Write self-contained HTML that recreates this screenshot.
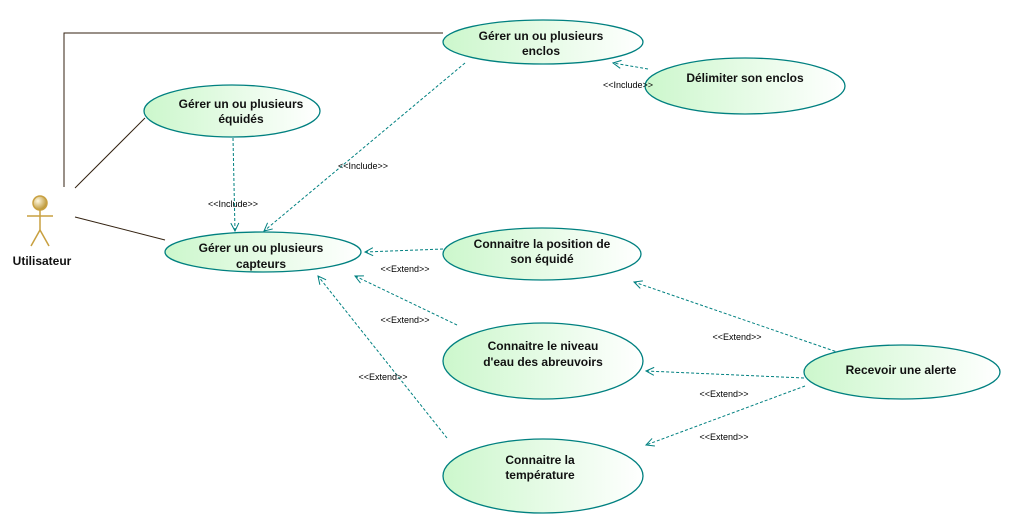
<!DOCTYPE html>
<html><head><meta charset="utf-8"><style>
body{margin:0;background:#fff;width:1014px;height:525px;overflow:hidden}
svg{display:block}
.t{font-family:"Liberation Sans",Arial,sans-serif;font-size:12px;font-weight:bold;fill:#111;text-anchor:middle}
.s{font-family:"Liberation Sans",Arial,sans-serif;font-size:9px;fill:#000;text-anchor:middle}
.d{stroke:#008080;stroke-width:1;fill:none;stroke-dasharray:3,2}
.a{stroke:#008080;stroke-width:1;fill:none}
.e{stroke:#008080;stroke-width:1.3;fill:url(#g)}
</style></head><body>
<svg width="1014" height="525" viewBox="0 0 1014 525">
<defs>
<linearGradient id="g" x1="0" x2="1" y1="0" y2="0"><stop offset="0" stop-color="#ccf7cc"/><stop offset="1" stop-color="#ffffff"/></linearGradient>
<radialGradient id="h" cx="0.35" cy="0.35" r="0.7"><stop offset="0" stop-color="#fff8e0"/><stop offset="1" stop-color="#b8902a"/></radialGradient>
<marker id="m" markerWidth="10" markerHeight="10" refX="9" refY="5" orient="auto" markerUnits="userSpaceOnUse"><path d="M1,1 L9,5 L1,9" class="a"/></marker>
</defs>
<g stroke="#332211" stroke-width="1" fill="none">
<polyline points="64,187 64,33 443,33"/>
<line x1="75" y1="188" x2="145" y2="118"/>
<line x1="75" y1="217" x2="165" y2="240"/>
</g>
<g stroke="#c8a040" stroke-width="1.5" fill="none">
<circle cx="40" cy="203" r="7" fill="url(#h)"/>
<line x1="40" y1="210" x2="40" y2="230"/>
<line x1="27" y1="216" x2="53" y2="216"/>
<line x1="40" y1="230" x2="31" y2="246"/>
<line x1="40" y1="230" x2="49" y2="246"/>
</g>
<text class="t" x="42" y="265">Utilisateur</text>
<line class="d" x1="233" y1="138" x2="235" y2="231" marker-end="url(#m)"/>
<line class="d" x1="465" y1="63" x2="264" y2="231" marker-end="url(#m)"/>
<line class="d" x1="648" y1="69" x2="613" y2="63" marker-end="url(#m)"/>
<line class="d" x1="443" y1="249" x2="365" y2="252" marker-end="url(#m)"/>
<line class="d" x1="457" y1="325" x2="355" y2="276" marker-end="url(#m)"/>
<line class="d" x1="447" y1="438" x2="318" y2="276" marker-end="url(#m)"/>
<line class="d" x1="840" y1="353" x2="634" y2="282" marker-end="url(#m)"/>
<line class="d" x1="804" y1="378" x2="646" y2="371" marker-end="url(#m)"/>
<line class="d" x1="805" y1="386" x2="646" y2="445" marker-end="url(#m)"/>
<ellipse class="e" cx="543" cy="42" rx="100" ry="22"/>
<text class="t" x="541" y="40">Gérer un ou plusieurs</text><text class="t" x="541" y="55">enclos</text>
<ellipse class="e" cx="745" cy="86" rx="100" ry="28"/>
<text class="t" x="745" y="82">Délimiter son enclos</text>
<ellipse class="e" cx="232" cy="111" rx="88" ry="26"/>
<text class="t" x="241" y="108">Gérer un ou plusieurs</text><text class="t" x="241" y="123">équidés</text>
<ellipse class="e" cx="263" cy="252" rx="98" ry="20"/>
<text class="t" x="261" y="252">Gérer un ou plusieurs</text><text class="t" x="261" y="268">capteurs</text>
<ellipse class="e" cx="542" cy="254" rx="99" ry="26"/>
<text class="t" x="542" y="248">Connaitre la position de</text><text class="t" x="542" y="263">son équidé</text>
<ellipse class="e" cx="543" cy="361" rx="100" ry="38"/>
<text class="t" x="543" y="350">Connaitre le niveau</text><text class="t" x="543" y="366">d'eau des abreuvoirs</text>
<ellipse class="e" cx="543" cy="476" rx="100" ry="37"/>
<text class="t" x="540" y="464">Connaitre la</text><text class="t" x="540" y="479">température</text>
<ellipse class="e" cx="902" cy="372" rx="98" ry="27"/>
<text class="t" x="901" y="374">Recevoir une alerte</text>
<text class="s" x="233" y="207">&lt;&lt;Include&gt;&gt;</text>
<text class="s" x="363" y="169">&lt;&lt;Include&gt;&gt;</text>
<text class="s" x="628" y="88">&lt;&lt;Include&gt;&gt;</text>
<text class="s" x="405" y="272">&lt;&lt;Extend&gt;&gt;</text>
<text class="s" x="405" y="323">&lt;&lt;Extend&gt;&gt;</text>
<text class="s" x="383" y="380">&lt;&lt;Extend&gt;&gt;</text>
<text class="s" x="737" y="340">&lt;&lt;Extend&gt;&gt;</text>
<text class="s" x="724" y="397">&lt;&lt;Extend&gt;&gt;</text>
<text class="s" x="724" y="440">&lt;&lt;Extend&gt;&gt;</text>
</svg>
</body></html>
